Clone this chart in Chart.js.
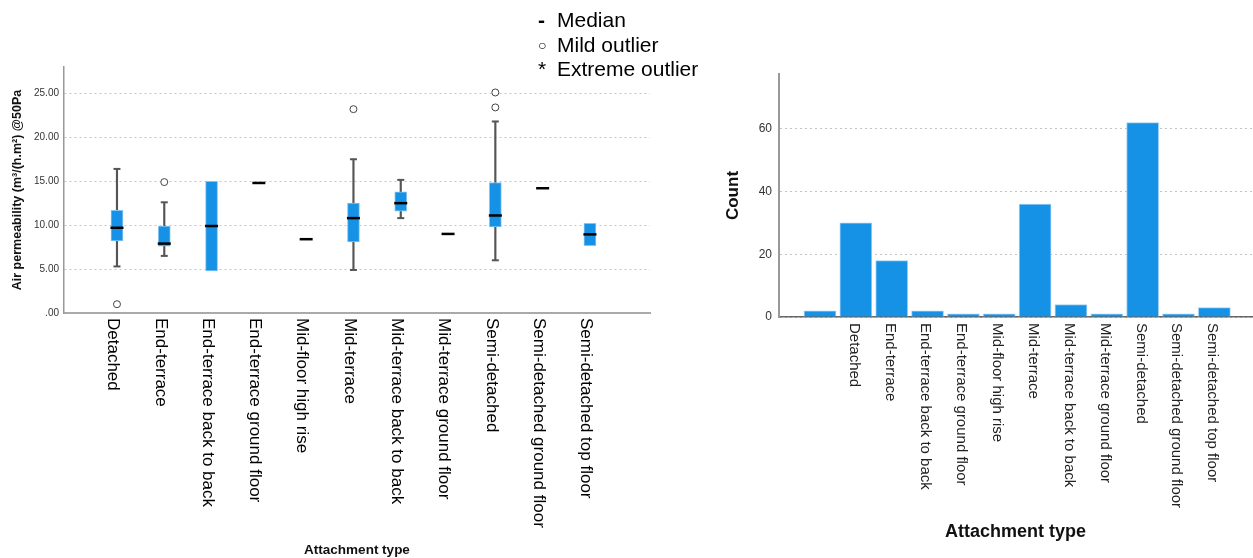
<!DOCTYPE html>
<html>
<head>
<meta charset="utf-8">
<script src="https://cdn.jsdelivr.net/npm/chart.js@4.4.1/dist/chart.umd.min.js"></script>
<style>
  body { margin: 0; background: #fff; width: 1253px; height: 558px; position: relative; overflow: hidden;
         font-family: Arial, 'Liberation Sans', sans-serif; }
  #boxChart { position: absolute; left: 0; top: 0; }
  #countChart { position: absolute; left: 690px; top: 0; }
  .key { position: absolute; left: 538px; font-size: 21px; line-height: 24px; color: #000; white-space: nowrap; }
  .key .sym { display: inline-block; width: 19px; }
  .key .ring { font-size: 14px; position: relative; top: -2px; }
</style>
</head>
<body>
<canvas id="boxChart" width="680" height="558"></canvas>
<canvas id="countChart" width="563" height="558"></canvas>
<div class="key" style="top:8px"><span class="sym" style="font-weight:bold">-</span>Median</div>
<div class="key" style="top:33px"><span class="sym ring">○</span>Mild outlier</div>
<div class="key" style="top:57px"><span class="sym">*</span>Extreme outlier</div>
<script>
const categories = ['Detached', 'End-terrace', 'End-terrace back to back', 'End-terrace ground floor',
  'Mid-floor high rise', 'Mid-terrace', 'Mid-terrace back to back', 'Mid-terrace ground floor',
  'Semi-detached', 'Semi-detached ground floor', 'Semi-detached top floor'];

// box plot statistics per attachment type (null = not drawn)
const whiskerLow  = [5.3, 6.5, null, null, null, 4.9, 10.8, null, 6.0, null, null];
const q1          = [8.2, 7.6, 4.8, null, null, 8.1, 11.6, null, 9.8, null, 7.65];
const median      = [9.7, 7.9, 9.9, 14.8, 8.4, 10.8, 12.5, 9.0, 11.1, 14.2, 8.95];
const q3          = [11.7, 9.9, 15.0, null, null, 12.5, 13.8, null, 14.85, null, 10.2];
const whiskerHigh = [16.4, 12.6, null, null, null, 17.5, 15.15, null, 21.8, null, null];
const outliers    = [[1.0], [14.9], [], [], [], [23.2], [], [], [25.1, 23.4], [], []];

// counts, first bar is the unlabelled group
const countLabels = [''].concat(categories);
const counts = [2, 30, 18, 2, 1, 1, 36, 4, 1, 62, 1, 3];

const FONT = "Arial, 'Liberation Sans', sans-serif";
Chart.defaults.font.family = FONT;
Chart.defaults.color = '#222';

// x labels drawn reading downwards
function verticalLabels(labels, font, color, shift, gap) {
  return {
    id: 'verticalLabels',
    afterDraw(chart) {
      const scale = chart.scales.x;
      const ctx = chart.ctx;
      ctx.save();
      ctx.font = font;
      ctx.fillStyle = color;
      ctx.textAlign = 'left';
      ctx.textBaseline = 'middle';
      labels.forEach((text, i) => {
        if (!text) return;
        ctx.save();
        ctx.translate(scale.getPixelForValue(i) + shift, scale.top + gap);
        ctx.rotate(Math.PI / 2);
        ctx.fillText(text, 0, 0);
        ctx.restore();
      });
      ctx.restore();
    }
  };
}

const idx = categories.map((c, i) => i);
const whiskerData = idx.filter(i => whiskerLow[i] != null).map(i => ({x: i, y: [whiskerLow[i], whiskerHigh[i]]}));
const capData = idx.filter(i => whiskerLow[i] != null).flatMap(i => [{x: i, y: whiskerLow[i]}, {x: i, y: whiskerHigh[i]}]);
const boxData = idx.filter(i => q1[i] != null).map(i => ({x: i, y: [q1[i], q3[i]]}));
const medianData = idx.map(i => ({x: i, y: median[i]}));
const outlierData = idx.flatMap(i => outliers[i].map(v => ({x: i, y: v})));

new Chart(document.getElementById('boxChart'), {
  type: 'bar',
  data: {
    datasets: [
      { type: 'scatter', data: outlierData, pointStyle: 'circle', pointRadius: 3.5,
        backgroundColor: '#fff', borderColor: '#444', borderWidth: 1 },
      { type: 'scatter', data: medianData, pointStyle: 'line', pointRadius: 6.5,
        borderColor: '#000', borderWidth: 2.5 },
      { data: boxData, grouped: false, barThickness: 12, backgroundColor: '#1591e6',
        borderColor: '#86c4f0', borderWidth: 1, borderSkipped: false },
      { type: 'scatter', data: capData, pointStyle: 'line', pointRadius: 3.5,
        borderColor: '#555', borderWidth: 2 },
      { data: whiskerData, grouped: false, barThickness: 1.5, backgroundColor: '#555', borderWidth: 0 }
    ]
  },
  options: {
    responsive: false,
    animation: false,
    events: [],
    layout: { padding: { left: 0, right: 30, top: 67, bottom: 0 } },
    plugins: { legend: { display: false }, tooltip: { enabled: false } },
    scales: {
      x: {
        type: 'linear', min: -1.12, max: 11.27, offset: false,
        grid: { display: false },
        border: { color: '#aaa', width: 2 },
        ticks: { display: false },
        title: { display: true, text: 'Attachment type', color: '#111',
                 font: { size: 13.5, weight: 'bold' }, padding: { top: 0, bottom: 0 } },
        afterFit: s => { s.height = 245; }
      },
      y: {
        min: 0, max: 28,
        grid: { color: '#c4c4c4', drawTicks: false },
        border: { color: '#999', width: 1.5, dash: [2, 3] },
        ticks: { stepSize: 5, includeBounds: false, padding: 5, color: '#333', font: { size: 10 },
                 callback: v => (v === 0 ? '.00' : v.toFixed(2)) },
        title: { display: true, text: 'Air permeability (m³/(h.m²) @50Pa', color: '#111',
                 font: { size: 12.5, weight: 'bold' }, padding: { top: 10.5, bottom: 0 } },
        afterFit: s => { s.width = 64; }
      }
    }
  },
  plugins: [verticalLabels(categories, '17px ' + FONT, '#000', -4, 5)]
});

new Chart(document.getElementById('countChart'), {
  type: 'bar',
  data: {
    datasets: [{
      data: counts.map((v, i) => ({x: i, y: v})),
      barThickness: 32,
      backgroundColor: '#1591e6',
      borderColor: '#9ccff4',
      borderWidth: 1,
      borderSkipped: 'bottom'
    }]
  },
  options: {
    responsive: false,
    animation: false,
    events: [],
    layout: { padding: { left: 0, right: 1, top: 74, bottom: 0 } },
    plugins: { legend: { display: false }, tooltip: { enabled: false } },
    scales: {
      x: {
        type: 'linear', min: -1.144, max: 12.05, offset: false,
        grid: { display: false },
        border: { color: '#666', width: 1.5 },
        ticks: { display: false },
        title: { display: true, text: 'Attachment type', color: '#111',
                 font: { size: 18, weight: 'bold' }, padding: { top: 0, bottom: 15 } },
        afterFit: s => { s.height = 241; }
      },
      y: {
        min: 0, max: 77.5,
        grid: { color: '#c4c4c4', drawTicks: false },
        border: { color: '#999', width: 2, dash: [2, 3] },
        ticks: { stepSize: 20, includeBounds: false, padding: 7, color: '#333', font: { size: 12 } },
        title: { display: true, text: 'Count', color: '#111',
                 font: { size: 17, weight: 'bold' }, padding: { top: 33, bottom: 0 } },
        afterFit: s => { s.width = 89; }
      }
    }
  },
  plugins: [verticalLabels(countLabels, '15px ' + FONT, '#222', -2, 6)]
});
</script>
</body>
</html>
